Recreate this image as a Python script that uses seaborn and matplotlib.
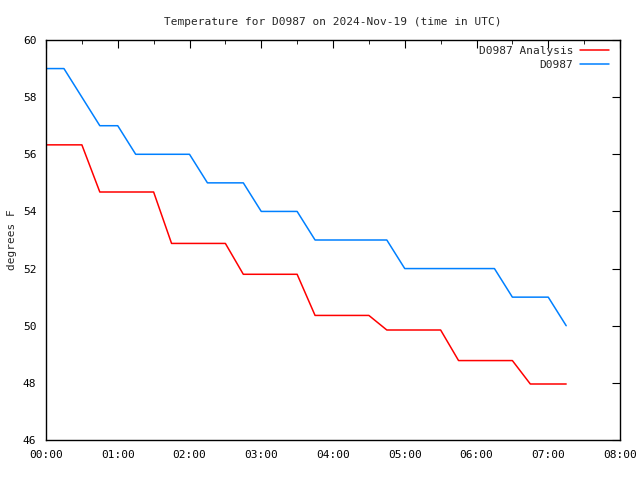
import numpy as np
import pandas as pd
import matplotlib
matplotlib.use("Agg")
import matplotlib.pyplot as plt
import matplotlib.dates as mdates
from matplotlib.ticker import MultipleLocator
import seaborn as sns

# 15-minute observations, 2024-11-19 00:00 .. 07:15 UTC
times = pd.date_range("2024-11-19 00:00", "2024-11-19 07:15", freq="15min")

obs_temp = [59, 59, 58, 57, 57, 56, 56, 56, 56, 55, 55, 55, 54, 54, 54, 53,
            53, 53, 53, 53, 52, 52, 52, 52, 52, 52, 51, 51, 51, 50]

analysis_temp = [56.33, 56.33, 56.33, 54.68, 54.68, 54.68, 54.68, 52.88,
                 52.88, 52.88, 52.88, 51.8, 51.8, 51.8, 51.8, 50.36,
                 50.36, 50.36, 50.36, 49.85, 49.85, 49.85, 49.85, 48.78,
                 48.78, 48.78, 48.78, 47.96, 47.96, 47.96]

df = pd.DataFrame({"time": times, "D0987 Analysis": analysis_temp, "D0987": obs_temp})
long = df.melt(id_vars="time", var_name="series", value_name="temp")

sns.set_style("white")
plt.rcParams["font.family"] = ["DejaVu Sans Mono"]
plt.rcParams["font.size"] = 8

fig = plt.figure(figsize=(6.4, 4.8), dpi=100)
ax = fig.add_axes([46 / 640, 40 / 480, 574 / 640, 400 / 480])

sns.lineplot(data=long, x="time", y="temp", hue="series",
             palette={"D0987 Analysis": "#ff0000", "D0987": "#0080ff"},
             linewidth=1.1, ax=ax)

ax.set_xlim(pd.Timestamp("2024-11-19 00:00"), pd.Timestamp("2024-11-19 08:00"))
ax.set_ylim(46, 60)
ax.xaxis.set_major_locator(mdates.HourLocator())
ax.xaxis.set_minor_locator(mdates.MinuteLocator(byminute=[30]))
ax.xaxis.set_major_formatter(mdates.DateFormatter("%H:%M"))
ax.yaxis.set_major_locator(MultipleLocator(2))

for s in ax.spines.values():
    s.set_color("black")
    s.set_linewidth(1.0)
ax.tick_params(which="both", direction="in", top=True, right=True,
               colors="black", labelsize=8)
ax.tick_params(which="major", length=6, pad=7)
ax.tick_params(which="minor", length=3)

ax.set_xlabel("")
ax.set_ylabel("degrees F", fontsize=8, labelpad=4)
ax.set_title("Temperature for D0987 on 2024-Nov-19 (time in UTC)", fontsize=8, pad=11)

ax.legend(loc="upper right", frameon=False, markerfirst=False, fontsize=8,
          handlelength=2.6, handletextpad=0.6, labelspacing=0.35,
          borderpad=0.0, borderaxespad=0.0,
          bbox_to_anchor=(1 - 11 / 574, 1 - 6 / 400))

fig.savefig("out.png", dpi=100)
